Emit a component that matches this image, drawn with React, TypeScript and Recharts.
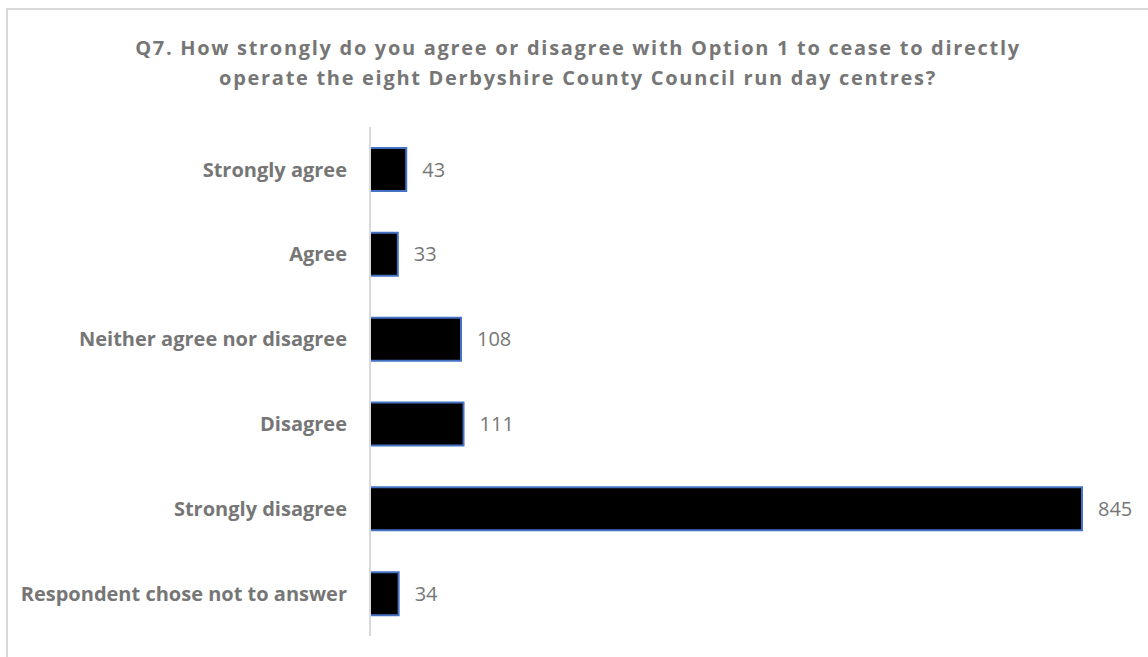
import React from "react";
import { BarChart, Bar, XAxis, YAxis, LabelList } from "recharts";

const categories = [
  "Strongly agree",
  "Agree",
  "Neither agree nor disagree",
  "Disagree",
  "Strongly disagree",
  "Respondent chose not to answer",
];
const responses = [43, 33, 108, 111, 845, 34];

const titleLines = [
  "Q7. How strongly do you agree or disagree with Option 1 to cease to directly",
  "operate the eight Derbyshire County Council run day centres?",
];

const data = categories.map((name, i) => ({ name, value: responses[i] }));

const GREY = "#767676";
const FONT = "'Open Sans', sans-serif";

export default function App() {
  return (
    <div
      style={{
        position: "absolute",
        left: 6,
        top: 8,
        width: 1154,
        height: 664,
        border: "2px solid #d9d9d9",
        background: "#fff",
        fontFamily: FONT,
      }}
    >
      <div
        style={{
          position: "absolute",
          left: 0,
          top: 23,
          width: 1140,
          textAlign: "center",
          color: GREY,
          fontWeight: 700,
          fontSize: 20,
          lineHeight: "30px",
          letterSpacing: 1.7,
        }}
      >
        {titleLines.map((t) => (
          <div key={t}>{t}</div>
        ))}
      </div>
      <BarChart
        width={1150}
        height={660}
        data={data}
        layout="vertical"
        margin={{ top: 117, right: 76, bottom: 34, left: 0 }}
      >
        <XAxis type="number" hide domain={[0, 845]} />
        <YAxis
          type="category"
          dataKey="name"
          width={362}
          tickLine={false}
          tickSize={0}
          tickMargin={23}
          axisLine={{ stroke: "#d9d9d9", strokeWidth: 2 }}
          tick={{ fill: GREY, fontSize: 20, fontWeight: 700, fontFamily: FONT }}
          interval={0}
        />
        <Bar
          dataKey="value"
          barSize={43}
          fill="#000"
          stroke="#4472c4"
          strokeWidth={2}
          isAnimationActive={false}
        >
          <LabelList
            dataKey="value"
            position="right"
            offset={16}
            style={{ fill: GREY, fontSize: 20, fontFamily: FONT }}
          />
        </Bar>
      </BarChart>
    </div>
  );
}
